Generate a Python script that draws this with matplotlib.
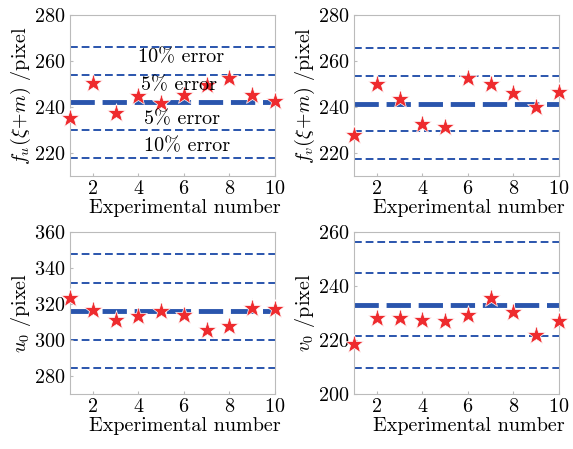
import matplotlib
matplotlib.use("Agg")
import matplotlib.pyplot as plt

plt.rcParams['font.family'] = ['cmr10', 'DejaVu Serif']
plt.rcParams['mathtext.fontset'] = 'cm'
plt.rcParams['axes.formatter.use_mathtext'] = True

experiments = list(range(1, 11))
fu_values = [235.2, 250.5, 237.6, 244.9, 241.9, 245.2, 249.5, 252.8, 245.2, 242.8]
fv_values = [227.8, 250.2, 243.5, 232.6, 231.2, 252.6, 250.1, 246.3, 240.2, 246.6]
u0_values = [323.6, 316.7, 311.2, 313.4, 316.2, 314.0, 305.6, 307.5, 318.0, 317.3]
v0_values = [218.5, 228.1, 228.1, 227.5, 226.9, 229.3, 235.7, 230.3, 221.9, 227.1]
ref_values = [242.0, 241.5, 316.0, 233.0]
error_levels = [0.05, 0.10]

ylabels = [r'$f_u(\xi\!+\!m)$ /pixel', r'$f_v(\xi\!+\!m)$ /pixel',
           r'$u_0$ /pixel', r'$v_0$ /pixel']
ylims = [(210, 280), (210, 280), (270, 360), (200, 260)]
yticks = [[220, 240, 260, 280], [220, 240, 260, 280],
          [280, 300, 320, 340, 360], [200, 220, 240, 260]]
series = [fu_values, fv_values, u0_values, v0_values]

W, H = 573, 449
fig = plt.figure(figsize=(W / 100, H / 100), dpi=100)
boxes = [(70, 15, 275, 176), (354, 15, 559, 176),
         (70, 232, 275, 394), (354, 232, 559, 394)]

blue = '#2a55ad'
red = '#ee2b2e'
fs = 14.5

for i in range(4):
    l, t, r, b = boxes[i]
    ax = fig.add_axes([l / W, 1 - b / H, (r - l) / W, (b - t) / H])
    ref = ref_values[i]
    for e in error_levels:
        for s in (1, -1):
            ax.axhline(ref * (1 + s * e), color=blue, lw=1.4, ls=(0, (4, 2)), zorder=1)
    ax.axhline(ref, color=blue, lw=3.5, ls=(0, (5, 1.6)), zorder=1)
    ax.plot(experiments, series[i], ls='none', marker='*', ms=14,
            color=red, mec='white', mew=0.5, zorder=3, clip_on=False)
    ax.set_xlim(1, 10)
    ax.set_ylim(*ylims[i])
    ax.set_xticks([2, 4, 6, 8, 10])
    ax.set_yticks(yticks[i])
    ax.tick_params(labelsize=fs, direction='in', length=2, color='#bbbbbb', pad=3)
    for sp in ax.spines.values():
        sp.set_color('#bbbbbb')
        sp.set_linewidth(0.8)
    ax.set_xlabel('Experimental number', fontsize=fs)
    ax.xaxis.set_label_coords(0.56, -0.145)
    ax.set_ylabel(ylabels[i], fontsize=fs, labelpad=1)
    if i == 0:
        ax.text(5.87, 261.6, '10% error', fontsize=fs, ha='center', va='center')
        ax.text(5.8, 249.5, '5% error', fontsize=fs, ha='center', va='center')
        ax.text(5.9, 234.8, '5% error', fontsize=fs, ha='center', va='center')
        ax.text(6.15, 223.0, '10% error', fontsize=fs, ha='center', va='center')

fig.savefig('out.png', dpi=100)
